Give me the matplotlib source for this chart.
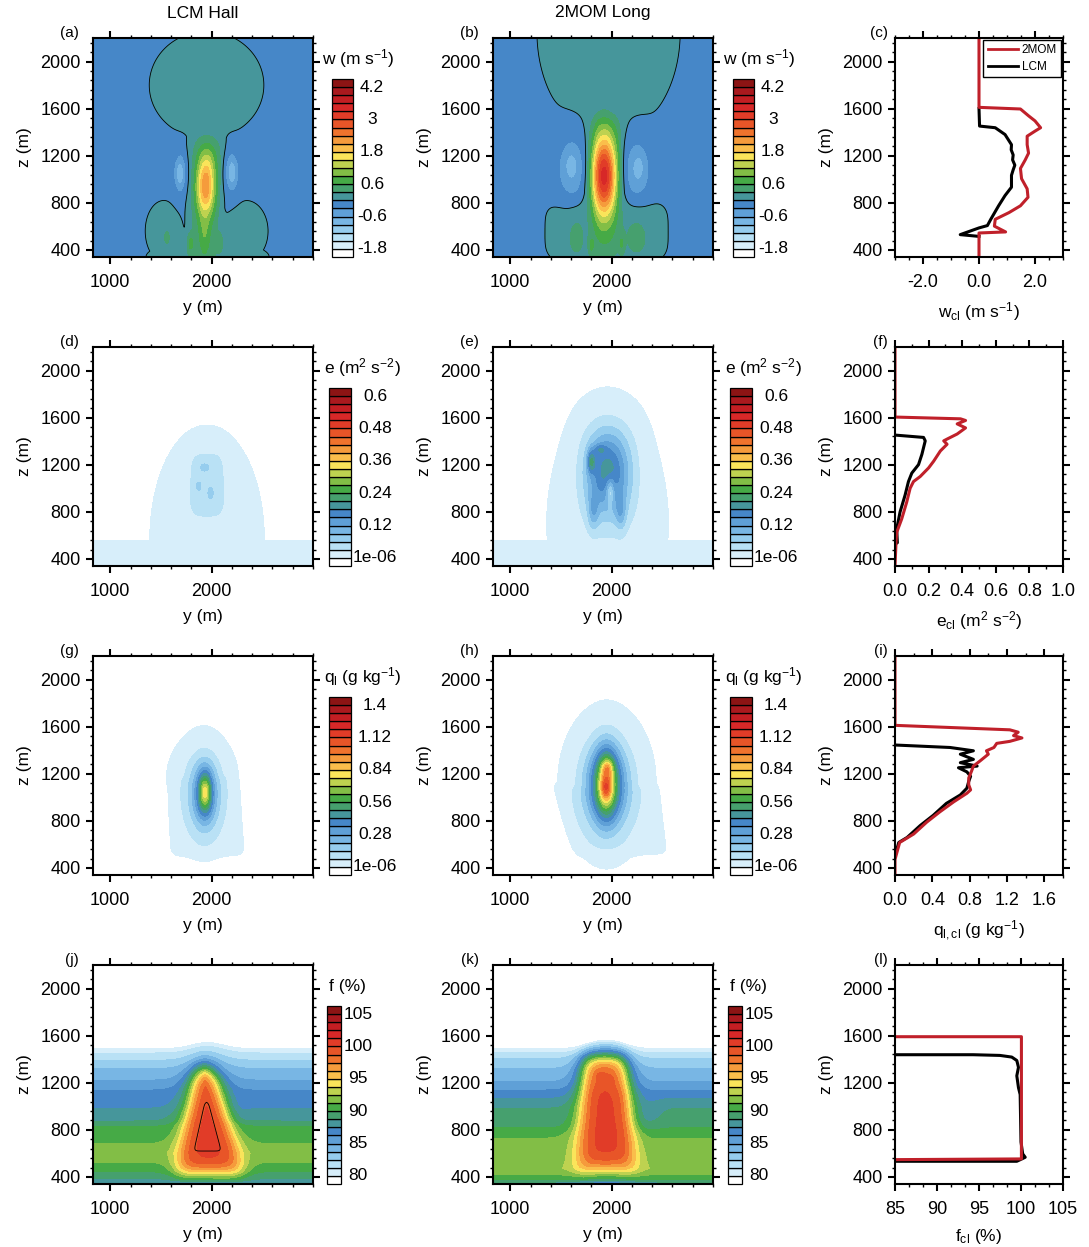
import numpy as np
import matplotlib
matplotlib.use("Agg")
import matplotlib.pyplot as plt
from matplotlib.colors import ListedColormap, BoundaryNorm
from matplotlib.patches import Rectangle
from matplotlib.lines import Line2D
from matplotlib.ticker import MultipleLocator, FixedLocator, FormatStrFormatter

plt.rcParams['font.family'] = ['Liberation Sans', 'DejaVu Sans']
plt.rcParams['mathtext.fontset'] = 'custom'
plt.rcParams['mathtext.rm'] = 'Liberation Sans'
plt.rcParams['mathtext.it'] = 'Liberation Sans:italic'
plt.rcParams['mathtext.bf'] = 'Liberation Sans:bold'
plt.rcParams['axes.unicode_minus'] = False

W_PX, H_PX = 1089, 1247
FS = 12.5
TICK_FS = 13

# 22 fill colours, from below-lowest (white) to above-highest (dark red)
palette = ["#ffffff", "#d7eefa", "#b9e1f5", "#96cdee", "#78b6e4", "#5fa0d7",
           "#4687c8", "#46969b", "#46a06e", "#46aa46", "#82be46", "#bed250",
           "#fae45a", "#fabe4b", "#f59b3c", "#f0732d", "#e85528", "#e13c28",
           "#d72828", "#c31e23", "#aa191e", "#8c1414"]

# contour levels and colour bar labels
w_levels = np.round(np.arange(-1.8, 4.2001, 0.3), 2)
e_levels = np.r_[1e-6, np.arange(0.03, 0.6001, 0.03)]
ql_levels = np.r_[1e-6, np.arange(0.07, 1.4001, 0.07)]
f_levels = np.arange(80, 105.001, 1.25)
w_labels = ["-1.8", "-0.6", "0.6", "1.8", "3", "4.2"]
e_labels = ["1e-06", "0.12", "0.24", "0.36", "0.48", "0.6"]
ql_labels = ["1e-06", "0.28", "0.56", "0.84", "1.12", "1.4"]
f_labels = ["80", "85", "90", "95", "100", "105"]

# ---- 2-D fields, described by the shapes ----
# envelope parts: ("blob", y0, z0, sy, sz, n) or ("plume", yc_bot, yc_top, z_bot, z_top, hw_bot, hw_top, edge_y, edge_z)
# additive parts: (amplitude, shape...)
w_lcm_env = [("blob", 1950, 1800, 480, 387, 2),
             ("plume", 1910, 1950, 300, 1450, 140, 175, 25, 60),
             ("blob", 1530, 560, 157, 221, 2),
             ("blob", 2340, 560, 184, 221, 2),
             ("blob", 1960, 340, 516, 120, 2)]
w_lcm_add = [(1.85, "blob", 1940, 930, 85, 230, 2),
             (0.40, "blob", 1960, 1150, 80, 160, 2),
             (0.30, "plume", 1930, 1960, 300, 1330, 115, 135, 25, 50),
             (0.40, "blob", 1930, 520, 50, 200, 2),
             (0.55, "blob", 1790, 450, 35, 90, 2),
             (0.50, "blob", 2080, 470, 35, 80, 2),
             (0.30, "blob", 1560, 500, 30, 70, 2),
             (-0.80, "blob", 1690, 1050, 60, 150, 2),
             (-0.80, "blob", 2200, 1060, 65, 150, 2)]

w_2mom_env = [("blob", 1970, 2250, 600, 760, 2),
              ("plume", 1920, 1930, 600, 1560, 140, 165, 25, 50),
              ("blob", 1950, 560, 560, 270, 4)]
w_2mom_add = [(3.0, "blob", 1925, 1030, 115, 340, 2),
              (0.30, "plume", 1940, 1960, 300, 1520, 120, 130, 25, 50),
              (0.35, "blob", 1650, 500, 70, 150, 2),
              (0.35, "blob", 2250, 500, 100, 150, 2),
              (0.40, "blob", 2100, 450, 30, 100, 2),
              (0.40, "blob", 1800, 430, 30, 100, 2),
              (-0.60, "blob", 1610, 1100, 140, 250, 2),
              (-0.60, "blob", 2250, 1090, 130, 240, 2),
              (-0.25, "blob", 1600, 1120, 45, 80, 2),
              (-0.25, "blob", 2270, 1100, 40, 80, 2)]

e_lcm_env = [("plume", 1900, 1900, 100, 548, 5000, 5000, 20, 10),
             ("blob", 1955, 560, 480, 830, 2)]
e_lcm_add = [(0.045, "blob", 1955, 1045, 175, 280, 4),
             (0.03, "blob", 1930, 1180, 40, 30, 2),
             (0.03, "blob", 1870, 1020, 20, 30, 2),
             (0.025, "blob", 1990, 960, 20, 40, 2)]

e_2mom_env = [("plume", 1900, 1900, 100, 548, 5000, 5000, 20, 10),
              ("blob", 1960, 700, 510, 850, 2)]
e_2mom_add = [(0.035, "blob", 1970, 1110, 290, 460, 3),
              (0.15, "blob", 1960, 1150, 200, 330, 2),
              (-0.10, "blob", 1985, 980, 45, 110, 2),
              (0.11, "blob", 1800, 1230, 35, 90, 2),
              (0.05, "blob", 1880, 1330, 60, 40, 2),
              (0.06, "blob", 1820, 800, 50, 150, 2),
              (0.06, "blob", 2090, 800, 50, 150, 2)]

ql_lcm_env = [("plume", 1960, 1920, 530, 1200, 340, 310, 20, 20),
              ("blob", 1900, 1200, 260, 230, 2)]
ql_lcm_add = [(0.15, "blob", 1920, 1030, 190, 330, 2),
              (0.25, "blob", 1935, 1020, 115, 260, 2),
              (0.38, "blob", 1935, 1045, 55, 150, 2)]

ql_2mom_env = [("plume", 2090, 1945, 540, 1100, 430, 490, 20, 20),
               ("blob", 1960, 1150, 330, 420, 2)]
ql_2mom_add = [(0.15, "blob", 1950, 1100, 260, 380, 2),
               (0.20, "blob", 1950, 1090, 210, 340, 2),
               (0.35, "blob", 1950, 1120, 130, 300, 2),
               (0.25, "blob", 1945, 1110, 75, 230, 2),
               (0.17, "blob", 1945, 1080, 45, 90, 2),
               (0.20, "blob", 1960, 1250, 50, 70, 2)]

# f: background profile at the domain edges, cloud value and cloud shape
f_lcm_z = [340, 390, 447, 530, 600, 675, 750, 830, 870, 930, 983, 1060, 1138, 1180, 1222,
           1270, 1321, 1356, 1391, 1422, 1453, 1472, 1490, 1520, 2200]
f_lcm_v = [88.2, 88.8, 90.0, 91.3, 91.8, 91.3, 90.6, 90.0, 88.8, 88.2, 87.5, 86.9, 86.25, 85.6, 85.0,
           84.4, 83.75, 83.1, 82.5, 81.9, 81.25, 80.6, 80.0, 78.0, 70.0]
f_2mom_z = [340, 365, 395, 430, 470, 530, 600, 700, 757, 830, 900, 983, 1030, 1067, 1100, 1138,
            1170, 1208, 1260, 1321, 1360, 1405, 1430, 1453, 1472, 1490, 1520, 2200]
f_2mom_v = [88.5, 89.5, 90.5, 91.6, 92.3, 92.0, 91.8, 91.5, 91.0, 89.8, 89.2, 88.75, 88.1, 87.5, 86.9, 86.25,
            85.6, 85.0, 84.4, 83.75, 83.1, 82.5, 81.9, 81.25, 80.6, 80.0, 78.0, 70.0]
f_lcm_bump = (50, 1960, 220)
f_2mom_bump = (60, 1950, 220)
f_lcm_cloud = 100.6
f_2mom_cloud = 99.5
f_lcm_env = [("plume", 1980, 1930, 440, 1320, 320, 80, 55, 45)]
f_lcm_core = ("plume", 1960, 1950, 620, 1040, 135, 15, 12, 12)
f_lcm_add = [(-2.5, "blob", 1950, 345, 420, 25, 2),
             (-0.8, "blob", 2250, 950, 120, 150, 2)]
f_2mom_env = [("plume", 1945, 1930, 470, 1420, 290, 200, 50, 45)]
f_2mom_add = [(0.9, "plume", 1960, 1960, 540, 1150, 180, 170, 25, 30),
              (0.9, "blob", 1880, 1250, 40, 40, 2),
              (0.7, "blob", 1990, 1220, 35, 50, 2),
              (-2.5, "blob", 1950, 345, 400, 25, 2),
              (-1.2, "blob", 2330, 930, 140, 160, 2)]

# ---- cloud-mean profiles (value, z) ----
wcl_2mom_z = [340, 544, 553, 602, 660, 717, 775, 847, 919, 1005, 1092, 1164, 1222, 1294, 1366,
              1409, 1438, 1496, 1539, 1597, 1611, 2200]
wcl_2mom_v = [0, 0, 0.95, 0.55, 0.58, 1.07, 1.48, 1.75, 1.72, 1.52, 1.48, 1.65, 1.77, 1.72, 1.72,
              2.0, 2.2, 2.0, 1.77, 1.48, 0.0, 0.0]
wcl_lcm_z = [515, 530, 587, 607, 660, 775, 862, 933, 1034, 1080, 1120, 1165, 1207, 1250, 1294,
             1380, 1438, 1452, 1600]
wcl_lcm_v = [0, -0.67, 0.0, 0.3, 0.42, 0.7, 0.93, 1.16, 1.16, 1.22, 1.28, 1.2, 1.22, 1.15, 1.16,
             0.93, 0.58, 0.02, 0.0]

ecl_2mom_z = [340, 538, 625, 740, 884, 1000, 1057, 1100, 1173, 1230, 1317, 1374, 1403, 1418, 1461,
              1513, 1547, 1576, 1590, 1605, 2200]
ecl_2mom_v = [0, 0.006, 0.01, 0.04, 0.07, 0.09, 0.11, 0.15, 0.20, 0.23, 0.27, 0.31, 0.29, 0.31, 0.37,
              0.42, 0.37, 0.42, 0.39, 0.0, 0.0]
ecl_lcm_z = [524, 538, 654, 798, 942, 1057, 1129, 1201, 1288, 1403, 1432, 1452]
ecl_lcm_v = [0.0, 0.014, 0.01, 0.03, 0.06, 0.08, 0.10, 0.14, 0.16, 0.18, 0.17, 0.0]

qcl_2mom_z = [340, 472, 530, 616, 688, 789, 876, 962, 1034, 1063, 1106, 1164, 1222, 1265, 1308, 1366,
              1395, 1423, 1458, 1475, 1504, 1524, 1553, 1573, 1611, 2200]
qcl_2mom_v = [0, 0, 0.02, 0.05, 0.20, 0.34, 0.48, 0.63, 0.77, 0.81, 0.79, 0.79, 0.82, 0.84, 0.91, 1.0,
              0.98, 1.06, 1.09, 1.23, 1.36, 1.27, 1.32, 1.23, 0.0, 0.0]
qcl_lcm_z = [530, 616, 659, 760, 847, 948, 1020, 1077, 1135, 1178, 1216, 1251, 1265, 1294, 1322,
             1366, 1395, 1423, 1444]
qcl_lcm_v = [0.01, 0.04, 0.13, 0.27, 0.41, 0.55, 0.70, 0.77, 0.79, 0.81, 0.77, 0.68, 0.88, 0.70, 0.84,
             0.70, 0.84, 0.59, 0.0]

fcl_2mom_z = [1591, 1591, 553, 547]
fcl_2mom_v = [85, 100.05, 100.05, 85]
fcl_lcm_z = [533, 533, 553, 567, 596, 697, 899, 1100, 1158, 1259, 1331, 1389, 1418, 1432, 1438, 1438]
fcl_lcm_v = [85, 99.5, 100.1, 100.5, 100.2, 100.0, 99.95, 99.9, 99.7, 99.5, 99.7, 99.5, 98.9, 97.5, 94.3, 85]

# ---- build the fields on a grid ----
y_grid = np.linspace(830, 3000, 435)
z_grid = np.linspace(340, 2200, 373)
YY, ZZ = np.meshgrid(y_grid, z_grid)


def sig(x):
    return 1.0 / (1.0 + np.exp(-np.clip(x, -50, 50)))


def shape(spec):
    if spec[0] == "blob":
        _, y0, z0, sy, sz, n = spec
        return np.exp(-(np.abs((YY - y0) / sy) ** n + np.abs((ZZ - z0) / sz) ** n))
    _, yb, yt, zb, zt, hwb, hwt, ey, ez = spec
    t = np.clip((ZZ - zb) / (zt - zb), 0, 1)
    hw = hwb + (hwt - hwb) * t
    yc = yb + (yt - yb) * t
    return sig((hw - np.abs(YY - yc)) / ey) * sig((zt - ZZ) / ez) * sig((ZZ - zb) / ez)


def envelope(env):
    m = np.zeros_like(YY)
    for spec in env:
        m = np.maximum(m, shape(spec))
    return m


def additive(add):
    out = np.zeros_like(YY)
    for item in add:
        out += item[0] * shape(item[1:])
    return out


def field(base, amp, env, add):
    return base + amp * envelope(env) + additive(add)


def f_field(fz, fv, bump, cloud, env, add):
    a, y0, sy = bump
    base = np.interp(ZZ - a * np.exp(-((YY - y0) / sy) ** 2), fz, fv)
    return base + (cloud - base) * envelope(env) + additive(add)


W_lcm = field(-0.05, 0.2, w_lcm_env, w_lcm_add)
W_2mom = field(-0.05, 0.2, w_2mom_env, w_2mom_add)
E_lcm = field(-0.005, 0.02, e_lcm_env, e_lcm_add)
E_2mom = field(-0.005, 0.02, e_2mom_env, e_2mom_add)
Q_lcm = field(-0.01, 0.04, ql_lcm_env, ql_lcm_add)
Q_2mom = field(-0.01, 0.04, ql_2mom_env, ql_2mom_add)
F_lcm = f_field(f_lcm_z, f_lcm_v, f_lcm_bump, f_lcm_cloud, f_lcm_env, f_lcm_add)
F_2mom = f_field(f_2mom_z, f_2mom_v, f_2mom_bump, f_2mom_cloud, f_2mom_env, f_2mom_add)
core_lcm = shape(f_lcm_core)

# ---- figure ----
fig = plt.figure(figsize=(W_PX / 100, H_PX / 100), dpi=100)


def px_axes(x, y, w, h):
    return fig.add_axes([x / W_PX, 1 - (y + h) / H_PX, w / W_PX, h / H_PX])


def style(ax):
    ax.tick_params(which='both', direction='out', top=True, right=True)
    ax.tick_params(which='major', length=5, width=1.5, labelsize=TICK_FS)
    ax.tick_params(which='minor', length=2.5, width=1)
    ax.tick_params(axis='x', which='major', pad=7)
    ax.tick_params(axis='y', which='major', pad=4)
    for s in ax.spines.values():
        s.set_linewidth(1.5)
    ax.set_ylim(340, 2200)
    ax.yaxis.set_major_locator(FixedLocator([400, 800, 1200, 1600, 2000]))
    ax.yaxis.set_minor_locator(MultipleLocator(80))
    ax.set_ylabel('z (m)', fontsize=FS, labelpad=6)


inner = ListedColormap(palette[1:21])
inner.set_under(palette[0])
inner.set_over(palette[21])


def draw_map(ax, F, levels, line_field=None, line_level=None):
    norm = BoundaryNorm(levels, inner.N)
    ax.contourf(YY, ZZ, F, levels=levels, cmap=inner, norm=norm, extend='both')
    if line_field is not None:
        ax.contour(YY, ZZ, line_field, levels=[line_level], colors='k', linewidths=0.6)
    style(ax)
    ax.set_xlim(830, 3000)
    ax.xaxis.set_major_locator(FixedLocator([1000, 2000]))
    ax.xaxis.set_minor_locator(MultipleLocator(200))
    ax.set_xlabel('y (m)', fontsize=FS, labelpad=7)


def draw_cbar(x, y, w, h, labels, lab_off):
    cax = px_axes(x, y, w, h)
    for i, c in enumerate(palette):
        cax.add_patch(Rectangle((0, i), 1, 1, facecolor=c, edgecolor='k', lw=0.9, clip_on=False))
    cax.set_xlim(0, 1)
    cax.set_ylim(0, 22)
    cax.axis('off')
    tr = cax.get_yaxis_transform()
    for k, lab in zip(range(0, 21, 4), labels):
        cax.text(1 + lab_off / w, k + 1, lab, transform=tr, ha='center', va='center', fontsize=12.5)


row_tops = [38, 347, 656, 965]
map_x = [93, 493]
prof_x = 895
cbar_x = [332, 329, 329, 327]
cbar_w = [21, 22, 22, 14]
cbar_off = [19, 24, 24, 17]
cbar_titles = ['w (m s$^{-1}$)', 'e (m$^{2}$ s$^{-2}$)', 'q$_{\\rm l}$ (g kg$^{-1}$)', 'f (%)']
cbar_title_x = [358, 362, 363, 347]
cbar_labels = [w_labels, e_labels, ql_labels, f_labels]
panel_letters = ['abc', 'def', 'ghi', 'jkl']

maps = [((W_lcm, W_lcm, 0.0), (W_2mom, W_2mom, 0.0), w_levels),
        ((E_lcm, None, None), (E_2mom, None, None), e_levels),
        ((Q_lcm, None, None), (Q_2mom, None, None), ql_levels),
        ((F_lcm, core_lcm, 0.5), (F_2mom, None, None), f_levels)]

profiles = [(wcl_lcm_v, wcl_lcm_z, wcl_2mom_v, wcl_2mom_z, (-3, 3), [-2, 0, 2], 0.5, '%.1f',
             'w$_{\\rm cl}$ (m s$^{-1}$)'),
            (ecl_lcm_v, ecl_lcm_z, ecl_2mom_v, ecl_2mom_z, (0, 1.0), [0, 0.2, 0.4, 0.6, 0.8, 1.0], 0.1, '%.1f',
             'e$_{\\rm cl}$ (m$^{2}$ s$^{-2}$)'),
            (qcl_lcm_v, qcl_lcm_z, qcl_2mom_v, qcl_2mom_z, (0, 1.8), [0, 0.4, 0.8, 1.2, 1.6], 0.2, '%.1f',
             'q$_{\\rm l,cl}$ (g kg$^{-1}$)'),
            (fcl_lcm_v, fcl_lcm_z, fcl_2mom_v, fcl_2mom_z, (85, 105), [85, 90, 95, 100, 105], 5 / 3, '%d',
             'f$_{\\rm cl}$ (%)')]

for r, top in enumerate(row_tops):
    left_map, right_map, levels = maps[r]
    for c, (F, lf, ll) in enumerate([left_map, right_map]):
        ax = px_axes(map_x[c], top, 220, 219)
        draw_map(ax, F, levels, lf, ll)
        fig.text((map_x[c] - 14) / W_PX, 1 - (top - 5) / H_PX, '(%s)' % panel_letters[r][c],
                 ha='right', va='center', fontsize=11)
        draw_cbar(cbar_x[r] + 401 * c, top + 41, cbar_w[r], 178, cbar_labels[r], cbar_off[r])
        fig.text((cbar_title_x[r] + 401 * c) / W_PX, 1 - (top + 21) / H_PX, cbar_titles[r],
                 ha='center', va='center', fontsize=FS)

    lv, lz, mv, mz, xlim, xmaj, xmin, fmt, xlab = profiles[r]
    ax = px_axes(prof_x, top, 168, 219)
    ax.plot(lv, lz, color='black', lw=2.2)
    ax.plot(mv, mz, color='#c0202a', lw=2.2)
    style(ax)
    ax.set_xlim(*xlim)
    ax.xaxis.set_major_locator(FixedLocator(xmaj))
    ax.xaxis.set_minor_locator(MultipleLocator(xmin))
    ax.xaxis.set_major_formatter(FormatStrFormatter(fmt))
    ax.set_xlabel(xlab, fontsize=FS, labelpad=7)
    fig.text((prof_x - 7) / W_PX, 1 - (top - 5) / H_PX, '(%s)' % panel_letters[r][2],
             ha='right', va='center', fontsize=11)
    if r == 0:
        handles = [Line2D([], [], color='#c0202a', lw=2), Line2D([], [], color='black', lw=2)]
        leg = ax.legend(handles, ['2MOM', 'LCM'], loc='upper right', fontsize=8.5, frameon=True,
                        fancybox=False, edgecolor='black', framealpha=1, borderaxespad=0.15,
                        handlelength=2.6, handletextpad=0.3, borderpad=0.35, labelspacing=0.45)
        leg.get_frame().set_linewidth(1.0)

fig.text(203 / W_PX, 1 - 14 / H_PX, 'LCM Hall', ha='center', va='center', fontsize=FS)
fig.text(603 / W_PX, 1 - 12 / H_PX, '2MOM Long', ha='center', va='center', fontsize=FS)

fig.savefig('out.png', dpi=100)
